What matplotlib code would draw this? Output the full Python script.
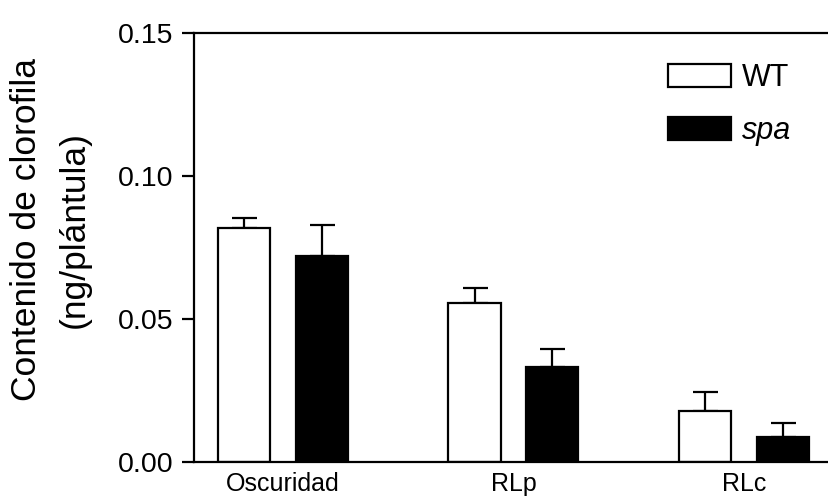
import numpy as np
import matplotlib
matplotlib.use("Agg")
import matplotlib.pyplot as plt

# data
categories = ["Oscuridad", "RLp", "RLc"]
wt_values = [0.0817, 0.0555, 0.0179]
wt_err = [0.0035, 0.0054, 0.0067]
spa_values = [0.0720, 0.0331, 0.0089]
spa_err = [0.0109, 0.0063, 0.0049]
yticks = [0.00, 0.05, 0.10, 0.15]

plt.rcParams['font.family'] = ['Liberation Sans', 'DejaVu Sans']

fig = plt.figure(figsize=(8.29, 4.97), dpi=100)
ax = fig.add_axes([194 / 829, 35 / 497, 635 / 829, 429 / 497])

x = np.arange(len(categories))
width = 0.226
offset = 0.169
lw = 1.6

ax.bar(x - offset, wt_values, width, color='white', edgecolor='black', linewidth=lw,
       label='WT', zorder=2)
ax.bar(x + offset, spa_values, width, color='black', edgecolor='black', linewidth=lw,
       label='spa', zorder=2)
ax.errorbar(x - offset, wt_values, yerr=[[0] * 3, wt_err], fmt='none', ecolor='black',
            elinewidth=lw, capsize=9, capthick=lw, zorder=1)
ax.errorbar(x + offset, spa_values, yerr=[[0] * 3, spa_err], fmt='none', ecolor='black',
            elinewidth=lw, capsize=9, capthick=lw, zorder=1)

ax.set_xlim(-0.386, 2.369)
ax.set_ylim(0, 0.15)
ax.set_yticks(yticks)
ax.set_yticklabels([f"{v:.2f}" for v in yticks], fontsize=20.5)
ax.set_xticks(x)
ax.set_xticklabels(categories, fontsize=18)
ax.tick_params(axis='x', length=0, pad=7)
ax.tick_params(axis='y', length=8.5, width=lw, pad=6.5)

for side in ['left', 'top', 'bottom']:
    ax.spines[side].set_linewidth(lw)
ax.spines['right'].set_visible(False)

ax.set_ylabel("Contenido de clorofila\n(ng/plántula)", fontsize=25.5, linespacing=1.55)
ax.yaxis.set_label_coords(-0.163, 0.543)

leg = ax.legend(loc='upper left', bbox_to_anchor=(0.746, 0.93), frameon=False,
                fontsize=22, handlelength=2.07, handleheight=0.78, handletextpad=0.35,
                labelspacing=0.75, borderpad=0, borderaxespad=0)
leg.get_texts()[1].set_fontstyle('italic')

fig.savefig("out.png", dpi=100)
